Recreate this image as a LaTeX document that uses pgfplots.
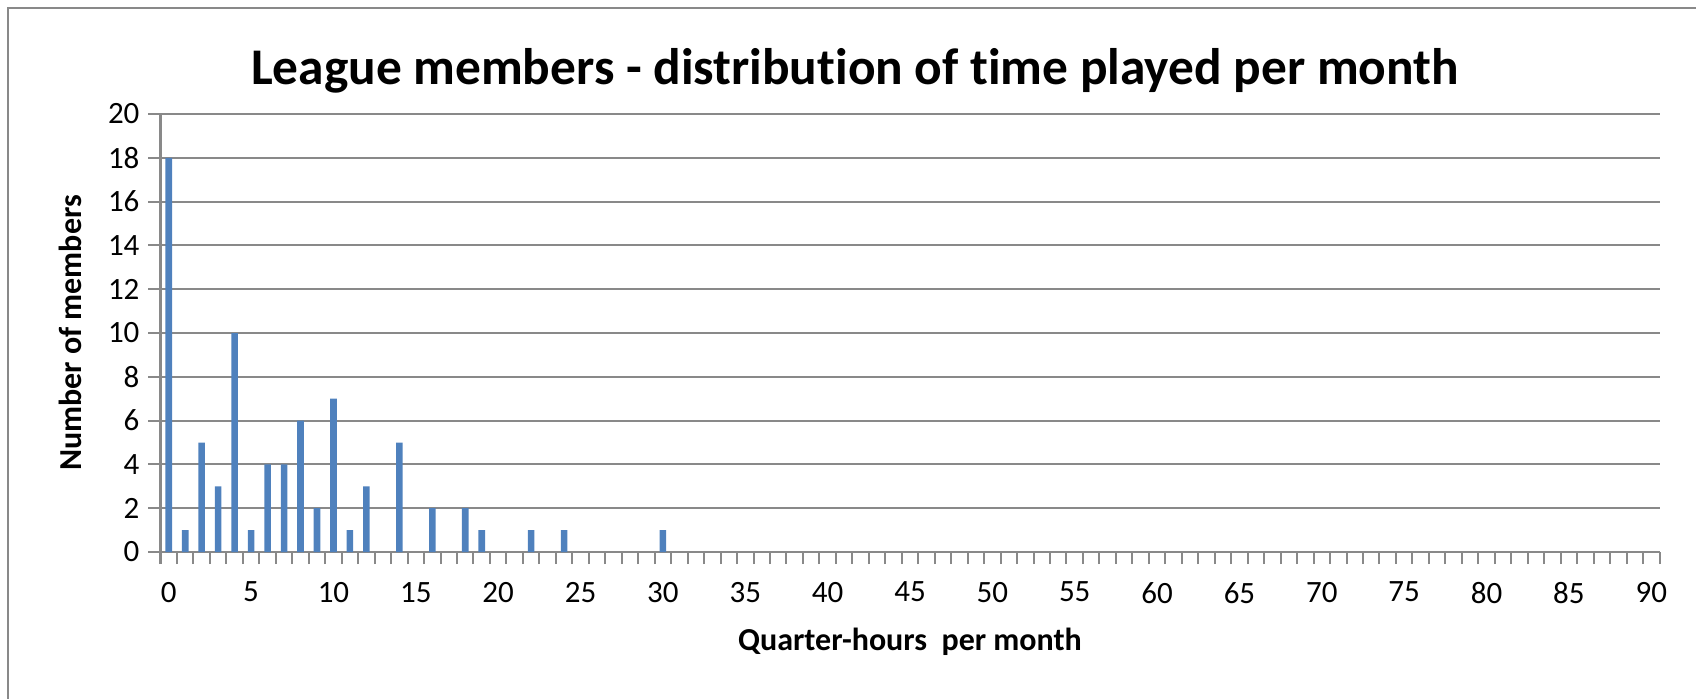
\documentclass[border=0pt]{standalone}
\usepackage{pgfplots}
\pgfplotsset{compat=1.18}
\usepackage{fontspec}
\setmainfont[Ligatures=NoCommon]{Carlito}
\definecolor{xlblue}{HTML}{4F81BD}
\definecolor{xlgrid}{HTML}{898989}
\begin{document}
\begin{tikzpicture}
\path[use as bounding box] (0,0) rectangle (848pt,349pt);
% chart frame (only top and left edges are visible)
\draw[xlgrid, line width=1pt] (4pt,-2pt) -- (4pt,345pt) -- (850pt,345pt);
\node[font=\fontsize{25.7}{30}\selectfont\bfseries, anchor=base] at (427.5pt,307pt)
  {League members - distribution of time played per month};
\begin{axis}[
  at={(80.25pt,73pt)}, anchor=south west,
  scale only axis, width=749.5pt, height=219pt,
  xmin=-0.5, xmax=90.5, ymin=0, ymax=20,
  axis x line*=bottom, axis y line*=left,
  axis line style={xlgrid, line width=1pt},
  xtick={0,5,...,90},
  minor xtick={-0.5,0.5,...,90.5},
  ytick={0,2,...,20},
  minor ytick={0,2,...,20},
  major tick length=0pt, minor tick length=6pt,
  tick align=outside,
  tick style={xlgrid, line width=1pt},
  ymajorgrids, grid style={xlgrid, line width=1pt},
  /pgf/number format/assume math mode=true,
  ticklabel style={font=\fontsize{15.5}{18}\selectfont},
  yticklabel style={xshift=-7pt},
  xticklabel style={yshift=-11.5pt},
  xlabel={Quarter-hours\ \ per month},
  ylabel={Number of members},
  xlabel style={font=\fontsize{16}{19}\selectfont\bfseries,
    at={(axis description cs:0.5,0)}, anchor=base, yshift=-49pt},
  ylabel style={font=\fontsize{16}{19}\selectfont\bfseries,
    at={(axis description cs:-0.0604,0.5)}, anchor=center},
]
\addplot[ybar, bar width=0.4, fill=xlblue, draw=none] coordinates {
  (0,18) (1,1) (2,5) (3,3) (4,10) (5,1) (6,4) (7,4) (8,6) (9,2)
  (10,7) (11,1) (12,3) (14,5) (16,2) (18,2) (19,1) (22,1) (24,1) (30,1)
};
\end{axis}
\end{tikzpicture}
\end{document}
